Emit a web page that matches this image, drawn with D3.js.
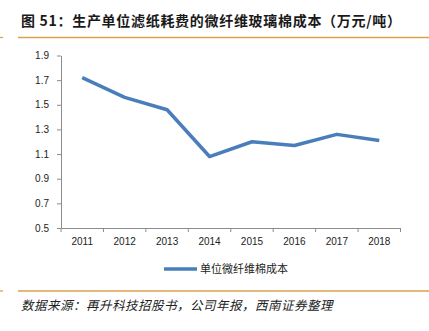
<!DOCTYPE html>
<html><head><meta charset="utf-8">
<script src="https://cdn.jsdelivr.net/npm/d3@7"></script>
<style>
html,body{margin:0;padding:0;background:#fff;}
svg{display:block;}
</style></head>
<body>
<svg id="c" width="429" height="331"></svg>
<script>
const years = ["2011","2012","2013","2014","2015","2016","2017","2018"];
const costValues = [1.72, 1.56, 1.46, 1.08, 1.20, 1.17, 1.26, 1.21];
const yTicks = [0.5, 0.7, 0.9, 1.1, 1.3, 1.5, 1.7, 1.9];
const titleText = "图 51：生产单位滤纸耗费的微纤维玻璃棉成本（万元/吨）";
const seriesName = "单位微纤维棉成本";
const sourceText = "数据来源：再升科技招股书，公司年报，西南证券整理";

const svg = d3.select("#c");
const orange = "#d9a24e";
const axisColor = "#8c8c8c";
const lineColor = "#4a7ebb";

// title
svg.append("text").attr("x",21).attr("y",26)
  .attr("font-family","'Noto Sans CJK SC','Noto Sans',sans-serif")
  .attr("font-size",14).attr("font-weight","bold").attr("fill","#1a1a1a")
  .style("letter-spacing","0.7px")
  .text(titleText);
svg.append("line").attr("x1",18).attr("x2",429).attr("y1",37.5).attr("y2",37.5)
  .attr("stroke",orange).attr("stroke-width",1.3);
svg.append("line").attr("x1",0).attr("x2",3).attr("y1",37.5).attr("y2",37.5)
  .attr("stroke",orange).attr("stroke-width",1.3);

const x = d3.scaleBand().domain(years).range([61,400.5]);
const y = d3.scaleLinear().domain([0.5,1.9]).range([228,55.5]);

// y axis
const ya = svg.append("g").attr("transform","translate(61,0)")
  .call(d3.axisLeft(y).tickValues(yTicks).tickFormat(d3.format(".1f")).tickSize(4).tickSizeOuter(0));
ya.select(".domain").attr("stroke",axisColor);
ya.selectAll(".tick line").attr("stroke",axisColor);
ya.selectAll(".tick text").attr("font-family","'Liberation Sans',Arial,sans-serif")
  .attr("font-size",10).attr("fill","#222").attr("x",-12);

// x axis
const xa = svg.append("g").attr("transform","translate(0,228)")
  .call(d3.axisBottom(x).tickSize(0).tickSizeOuter(0));
xa.select(".domain").attr("stroke",axisColor);
xa.selectAll(".tick text").attr("font-family","'Liberation Sans',Arial,sans-serif")
  .attr("font-size",10).attr("fill","#222").attr("dy","0").attr("y",17);
// boundary ticks
const bounds = years.map(d=>x(d)).concat([x.range()[1]]);
xa.selectAll(".bt").data(bounds).enter().append("line")
  .attr("x1",d=>d).attr("x2",d=>d).attr("y1",0).attr("y2",4)
  .attr("stroke",axisColor);

// line
const line = d3.line().x((d,i)=>x(years[i])+x.bandwidth()/2).y(d=>y(d));
svg.append("path").datum(costValues).attr("d",line)
  .attr("fill","none").attr("stroke",lineColor).attr("stroke-width",3.5)
  .attr("stroke-linejoin","round");

// legend
svg.append("line").attr("x1",164).attr("x2",197).attr("y1",269).attr("y2",269)
  .attr("stroke",lineColor).attr("stroke-width",3.5);
svg.append("text").attr("x",200).attr("y",273)
  .attr("font-family","'Noto Sans CJK SC',sans-serif").attr("font-size",11).attr("fill","#222")
  .text(seriesName);

// bottom rule
svg.append("line").attr("x1",18).attr("x2",429).attr("y1",291).attr("y2",291)
  .attr("stroke",orange).attr("stroke-width",1.3);
svg.append("line").attr("x1",0).attr("x2",3).attr("y1",291).attr("y2",291)
  .attr("stroke",orange).attr("stroke-width",1.3);

// source
svg.append("text").attr("x",21).attr("y",310)
  .attr("font-family","'Noto Sans CJK SC',sans-serif").attr("font-size",12.5)
  .attr("font-style","italic").attr("fill","#222")
  .style("letter-spacing","0.5px")
  .text(sourceText);
</script>
</body></html>
